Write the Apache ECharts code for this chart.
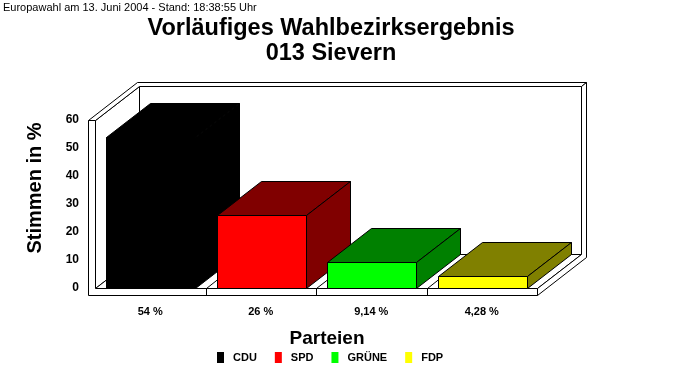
<!DOCTYPE html>
<html>
<head>
<meta charset="utf-8">
<script src="https://cdn.jsdelivr.net/npm/echarts@6/dist/echarts.min.js"></script>
<style>
html,body{margin:0;padding:0;background:#fff;}
#chart{width:683px;height:380px;}
</style>
</head>
<body>
<div id="chart"></div>
<script>
// ---- data ----
const categories = ['CDU', 'SPD', 'GRÜNE', 'FDP'];
const values = [54, 26, 9.14, 4.28];
const valueLabels = ['54 %', '26 %', '9,14 %', '4,28 %'];
const frontColors = ['#000000', '#FF0000', '#00FF00', '#FFFF00'];
const sideColors = ['#000000', '#800000', '#008000', '#808000'];
const yMin = 0, yMax = 60, yStep = 10;
const subtitleText = 'Europawahl am 13. Juni 2004 - Stand: 18:38:55 Uhr';
const titleText = 'Vorläufiges Wahlbezirksergebnis\n013 Sievern';
const yName = 'Stimmen in %';
const xName = 'Parteien';

// ---- style constants ----
const FONT = "'Liberation Sans', Arial, sans-serif";
const DEPTH = 34;       // depth of plot box in px (vertical component)
const KX = 1.29;        // horizontal shift per unit depth
const WALL = 7;         // left wall / floor thickness
const BACK = 4;         // back wall thickness (depth units)
const BAR_OFF = 0.104;  // bar front offset inside band
const BAR_W = 0.805;    // bar front width relative to band

function crisp(v) { return Math.round(v) + 0.5; }
function P(x, y, z) { return [crisp(x + z * KX), crisp(y - z)]; }
function poly(points, fill) {
  return { type: 'polygon', shape: { points: points }, style: { fill: fill, stroke: '#000', lineWidth: 1 } };
}
function seg(a, b) {
  return { type: 'line', shape: { x1: a[0], y1: a[1], x2: b[0], y2: b[1] }, style: { stroke: '#000', lineWidth: 1 } };
}

function renderFrame(params, api) {
  const b = api.size([1, 0])[0];
  const c0 = api.coord([0, yMin]);
  const x0 = c0[0] - b / 2;
  const x1 = x0 + categories.length * b;
  const yb = c0[1];
  const yt = api.coord([0, yMax])[1];
  const D = DEPTH, T = WALL, B = BACK;
  const ch = [];
  ch.push(poly([P(x0, yt, D), P(x1, yt, D), P(x1, yb, D), P(x0, yb, D)], '#fff'));
  ch.push(poly([P(x0, yt, 0), P(x0, yt, D), P(x0, yb, D), P(x0, yb, 0)], '#fff'));
  ch.push(poly([P(x0, yb, 0), P(x1, yb, 0), P(x1, yb, D), P(x0, yb, D)], '#fff'));
  ch.push(poly([P(x0 - T, yt, 0), P(x0, yt, 0), P(x0, yt, D), P(x1, yt, D), P(x1, yt, D + B), P(x0 - T, yt, D + B)], '#fff'));
  ch.push(poly([P(x1, yb, 0), P(x1, yb, D), P(x1, yt, D), P(x1, yt, D + B), P(x1, yb + T, D + B), P(x1, yb + T, 0)], '#fff'));
  ch.push(poly([P(x0 - T, yt, 0), P(x0, yt, 0), P(x0, yb, 0), P(x1, yb, 0), P(x1, yb + T, 0), P(x0 - T, yb + T, 0)], '#fff'));
  for (let i = 1; i < categories.length; i++) {
    const xb = x0 + i * b;
    ch.push(seg(P(xb, yb, 0), P(xb, yb + T, 0)));
    ch.push(seg(P(xb, yb, 0), P(xb, yb, D)));
  }
  return { type: 'group', children: ch };
}

function makeBarRenderer(idx) {
  return function (params, api) {
    const cat = api.value(0);
    const v = api.value(1);
    const b = api.size([1, 0])[0];
    const c = api.coord([cat, v]);
    const cb = api.coord([cat, yMin]);
    const start = c[0] - b / 2;
    const fx = start + BAR_OFF * b;
    const fw = BAR_W * b;
    const yt = c[1], yb = cb[1];
    const D = DEPTH;
    const side = sideColors[idx];
    const front = frontColors[idx];
    return {
      type: 'group',
      children: [
        poly([P(fx, yt, 0), P(fx + fw, yt, 0), P(fx + fw, yt, D), P(fx, yt, D)], side),
        poly([P(fx + fw, yt, 0), P(fx + fw, yt, D), P(fx + fw, yb, D), P(fx + fw, yb, 0)], side),
        poly([P(fx, yt, 0), P(fx + fw, yt, 0), P(fx + fw, yb, 0), P(fx, yb, 0)], front)
      ]
    };
  };
}

const series = [{
  type: 'custom',
  name: '__frame',
  silent: true,
  data: [[0, 0]],
  renderItem: renderFrame,
  z: 1
}];
categories.forEach(function (name, i) {
  series.push({
    type: 'custom',
    name: name,
    data: [[i, values[i]]],
    itemStyle: { color: frontColors[i] },
    renderItem: makeBarRenderer(i),
    z: 2
  });
});

const chart = echarts.init(document.getElementById('chart'), null, { renderer: 'canvas' });
chart.setOption({
  animation: false,
  backgroundColor: '#fff',
  title: [{
    text: subtitleText,
    left: 3, top: 1, padding: 0,
    textStyle: { fontFamily: FONT, fontSize: 11, fontWeight: 'normal', color: '#000', lineHeight: 13 }
  }, {
    text: titleText,
    left: 331, top: 16, padding: 0, textAlign: 'center',
    textStyle: { fontFamily: FONT, fontSize: 23.5, fontWeight: 'bold', color: '#000', lineHeight: 25 }
  }],
  legend: {
    data: categories,
    left: 217, top: 352, padding: 0,
    itemWidth: 7, itemHeight: 11, itemGap: 18,
    icon: 'rect',
    textStyle: { fontFamily: FONT, fontSize: 11, fontWeight: 'bold', color: '#000', padding: [0, 0, 0, 4] }
  },
  grid: { left: 95, right: 146, top: 120, bottom: 92, containLabel: false },
  xAxis: {
    type: 'category',
    data: categories,
    axisLine: { show: false },
    axisTick: { show: false },
    splitLine: { show: false },
    axisLabel: {
      margin: 18,
      fontFamily: FONT, fontSize: 11, fontWeight: 'bold', color: '#000',
      formatter: function (v, i) { return valueLabels[i]; }
    }
  },
  yAxis: {
    type: 'value',
    min: yMin, max: yMax, interval: yStep,
    axisLine: { show: false },
    axisTick: { show: false },
    splitLine: { show: false },
    axisLabel: { margin: 16, padding: [4, 0, 0, 0], fontFamily: FONT, fontSize: 12, fontWeight: 'bold', color: '#000' }
  },
  graphic: [{
    type: 'text',
    x: 35, y: 188, rotation: Math.PI / 2,
    style: { text: yName, fontFamily: FONT, fontSize: 20, fontWeight: 'bold', fill: '#000', align: 'center', verticalAlign: 'middle' }
  }, {
    type: 'text',
    x: 327, y: 339,
    style: { text: xName, fontFamily: FONT, fontSize: 19, fontWeight: 'bold', fill: '#000', align: 'center', verticalAlign: 'middle' }
  }],
  series: series
});
</script>
</body>
</html>
